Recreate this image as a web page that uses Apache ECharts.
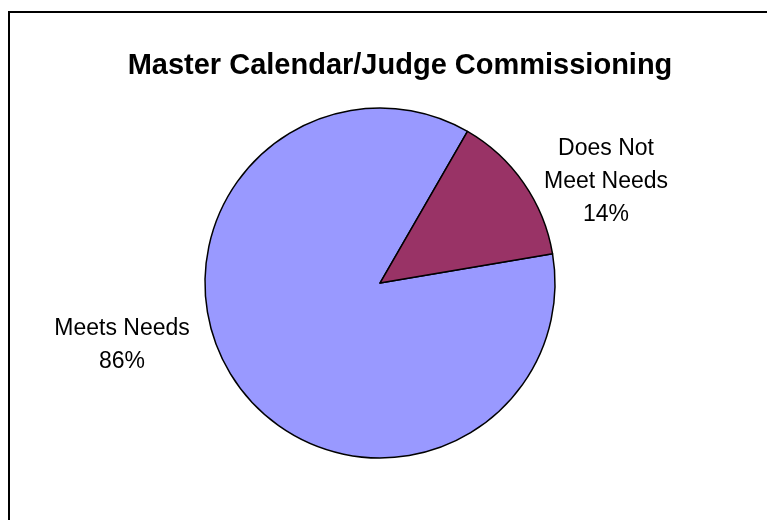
<!DOCTYPE html>
<html>
<head>
<meta charset="utf-8">
<script src="https://cdn.jsdelivr.net/npm/echarts@6/dist/echarts.min.js"></script>
<style>
  html, body { margin: 0; padding: 0; background: #fff; }
  #chart { width: 767px; height: 520px; }
</style>
</head>
<body>
<div id="chart"></div>
<script>
// Survey result split
const titleText = 'Master Calendar/Judge Commissioning';
const categories = ['Meets Needs', 'Does Not\nMeet Needs'];
const shares = [86, 14];
const sliceColors = ['#9999FF', '#993366'];

// Where each slice's caption sits (label centre, px)
const labelSpots = [[122, 345], [606, 182]];

const chart = echarts.init(document.getElementById('chart'), null, { renderer: 'canvas' });

chart.setOption({
  backgroundColor: '#fff',
  animation: false,
  title: {
    text: titleText,
    left: 395,
    top: 46,
    textAlign: 'center',
    textStyle: {
      fontFamily: 'Liberation Sans, Arial, sans-serif',
      fontWeight: 'bold',
      fontSize: 29,
      color: '#000'
    }
  },
  graphic: [{
    type: 'rect',
    shape: { x: 9, y: 12, width: 900, height: 700 },
    style: { fill: 'none', stroke: '#000', lineWidth: 2 },
    silent: true
  }],
  series: [{
    type: 'pie',
    center: [380, 283],
    radius: 175,
    startAngle: 9.6,
    clockwise: true,
    data: categories.map((name, i) => ({
      name: name,
      value: shares[i],
      itemStyle: { color: sliceColors[i] }
    })),
    itemStyle: { borderColor: '#000', borderWidth: 1.5 },
    emphasis: { disabled: true },
    label: {
      show: true,
      position: 'outside',
      formatter: p => p.name + '\n' + p.value + '%',
      fontFamily: 'Liberation Sans, Arial, sans-serif',
      fontSize: 23,
      lineHeight: 33,
      color: '#000',
      align: 'center'
    },
    labelLine: { show: false },
    labelLayout: p => ({
      x: labelSpots[p.dataIndex][0],
      y: labelSpots[p.dataIndex][1],
      align: 'center',
      verticalAlign: 'middle'
    })
  }]
});
</script>
</body>
</html>
